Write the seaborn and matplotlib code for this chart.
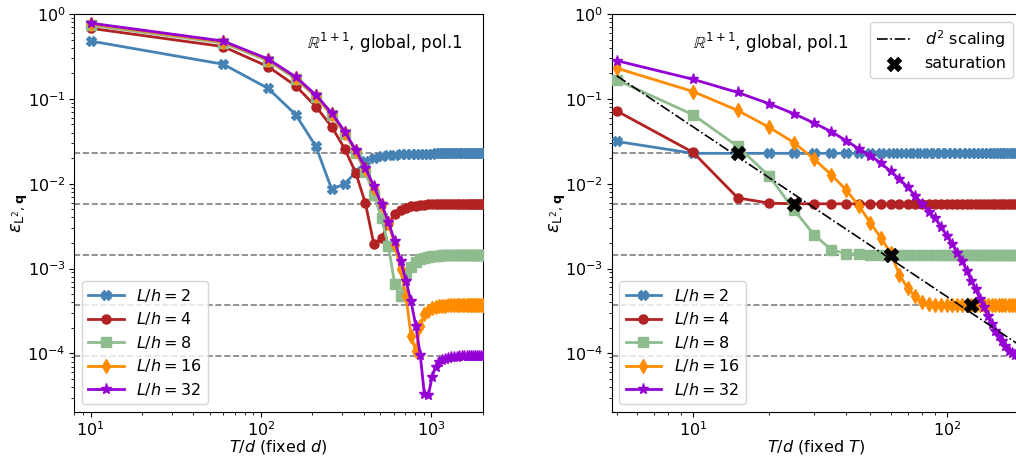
import numpy as np
import pandas as pd
import matplotlib
matplotlib.use("Agg")
import matplotlib.pyplot as plt
import seaborn as sns

# ===============================
# Data
# ===============================
lh_levels = ["2", "4", "8", "16", "32"]

# left panel: T/d with fixed d
td_left = list(range(10, 2011, 50))

blue_left = [0.48, 0.256, 0.133, 0.065, 0.0275, 0.0086, 0.0100, 0.0137, 0.0183, 0.0203,
             0.0212, 0.0217, 0.0220, 0.0222, 0.0223, 0.0224, 0.0225, 0.0225, 0.0226, 0.0226,
             0.0226, 0.0227, 0.0227, 0.0227, 0.0227, 0.0227, 0.0228, 0.0228, 0.0228, 0.0228,
             0.0228, 0.0228, 0.0228, 0.0228, 0.0228, 0.0228, 0.0228, 0.0228, 0.0228, 0.0228,
             0.0228]
red_left = [0.678, 0.413, 0.240, 0.142, 0.081, 0.047, 0.0258, 0.0134, 0.0059, 0.00193,
            0.0023, 0.0034, 0.0044, 0.0049, 0.0052, 0.0054, 0.0055, 0.0056, 0.00565, 0.0057,
            0.00573, 0.00575, 0.00577, 0.00578, 0.00579, 0.0058, 0.0058, 0.0058, 0.0058, 0.0058,
            0.0058, 0.0058, 0.0058, 0.0058, 0.0058, 0.0058, 0.0058, 0.0058, 0.0058, 0.0058,
            0.0058]
green_left = [0.735, 0.455, 0.281, 0.172, 0.105, 0.064, 0.039, 0.0232, 0.0137, 0.0074,
              0.0039, 0.00183, 0.00065, 0.00047, 0.00089, 0.00105, 0.00119, 0.00128, 0.00133, 0.00137,
              0.00139, 0.00141, 0.00142, 0.00143, 0.00144, 0.00144, 0.00145, 0.00145, 0.00145, 0.00146,
              0.00146, 0.00146, 0.00146, 0.00146, 0.00146, 0.00146, 0.00146, 0.00146, 0.00146, 0.00146,
              0.00146]
orange_left = [0.765, 0.47, 0.29, 0.178, 0.108, 0.066, 0.040, 0.0242, 0.0149, 0.0090,
               0.0056, 0.0034, 0.0019, 0.00098, 0.00047, 0.00016, 0.000108, 0.00021, 0.00029, 0.00032,
               0.00034, 0.000352, 0.00036, 0.000363, 0.000366, 0.000368, 0.000369, 0.00037, 0.00037, 0.00037,
               0.00037, 0.00037, 0.00037, 0.00037, 0.00037, 0.00037, 0.00037, 0.00037, 0.00037, 0.00037,
               0.00037]
purple_left = [0.78, 0.48, 0.295, 0.181, 0.111, 0.068, 0.0412, 0.0248, 0.0153, 0.0093,
               0.0058, 0.0035, 0.0021, 0.00124, 0.00071, 0.00041, 0.000213, 9.7e-5, 3.3e-5, 3.2e-5,
               5.3e-5, 7.0e-5, 7.9e-5, 8.4e-5, 8.7e-5, 8.9e-5, 9.0e-5, 9.1e-5, 9.15e-5, 9.2e-5,
               9.2e-5, 9.25e-5, 9.25e-5, 9.3e-5, 9.3e-5, 9.3e-5, 9.3e-5, 9.3e-5, 9.3e-5, 9.3e-5,
               9.3e-5]

# right panel: T/d with fixed T
td_right = list(range(5, 201, 5))

blue_right = [0.0315, 0.0228, 0.0228, 0.0228, 0.0228, 0.0228, 0.0228, 0.0228, 0.0228, 0.0228,
              0.0228, 0.0228, 0.0228, 0.0228, 0.0228, 0.0228, 0.0228, 0.0228, 0.0228, 0.0228,
              0.0228, 0.0228, 0.0228, 0.0228, 0.0228, 0.0228, 0.0228, 0.0228, 0.0228, 0.0228,
              0.0228, 0.0228, 0.0228, 0.0228, 0.0228, 0.0228, 0.0228, 0.0228, 0.0228, 0.0228]
red_right = [0.072, 0.0234, 0.0068, 0.0059, 0.0058, 0.0058, 0.0058, 0.0058, 0.0058, 0.0058,
             0.0058, 0.0058, 0.0058, 0.0058, 0.0058, 0.0058, 0.0058, 0.0058, 0.0058, 0.0058,
             0.0058, 0.0058, 0.0058, 0.0058, 0.0058, 0.0058, 0.0058, 0.0058, 0.0058, 0.0058,
             0.0058, 0.0058, 0.0058, 0.0058, 0.0058, 0.0058, 0.0058, 0.0058, 0.0058, 0.0058]
green_right = [0.167, 0.065, 0.0275, 0.0122, 0.0049, 0.0025, 0.00167, 0.0015, 0.00147, 0.00146,
               0.00146, 0.00146, 0.00146, 0.00146, 0.00146, 0.00146, 0.00146, 0.00146, 0.00146, 0.00146,
               0.00146, 0.00146, 0.00146, 0.00146, 0.00146, 0.00146, 0.00146, 0.00146, 0.00146, 0.00146,
               0.00146, 0.00146, 0.00146, 0.00146, 0.00146, 0.00146, 0.00146, 0.00146, 0.00146, 0.00146]
orange_right = [0.23, 0.122, 0.073, 0.046, 0.0304, 0.0195, 0.0128, 0.0085, 0.0055, 0.00345,
                0.0023, 0.00153, 0.00085, 0.00059, 0.00047, 0.0004, 0.00038, 0.00037, 0.00037, 0.00037,
                0.00037, 0.00037, 0.00037, 0.00037, 0.00037, 0.00037, 0.00037, 0.00037, 0.00037, 0.00037,
                0.00037, 0.00037, 0.00037, 0.00037, 0.00037, 0.00037, 0.00037, 0.00037, 0.00037, 0.00037]
purple_right = [0.282, 0.170, 0.119, 0.0873, 0.0667, 0.0518, 0.0412, 0.0323, 0.0258, 0.0214,
                0.0175, 0.0140, 0.0114, 0.0091, 0.0072, 0.0058, 0.0047, 0.0039, 0.0031, 0.00244,
                0.00195, 0.00153, 0.00122, 0.00093, 0.00071, 0.00057, 0.00044, 0.00035, 0.000275, 0.00022,
                0.000183, 0.00016, 0.00014, 0.000122, 0.000106, 0.0001, 9.6e-5, 9.5e-5, 9.4e-5, 9.3e-5]

# saturation levels (dashed lines) and saturation points
sat_levels = [0.0228, 0.0058, 0.00146, 0.00037, 0.000093]
sat_x = [15, 25, 60, 125]
sat_y = [0.0228, 0.0058, 0.00146, 0.00037]

# d^2 reference line (end points)
d2_x = [5, 200]
d2_y = [0.187, 0.000117]

# ===============================
# Styles
# ===============================
colors = ["steelblue", "firebrick", "darkseagreen", "darkorange", "darkviolet"]
markers = ["X", "o", "s", "d", "*"]
msizes = [7, 6.5, 6.5, 7, 8]

plt.rcParams["font.size"] = 11.5
plt.rcParams["legend.fontsize"] = 11.5
plt.rcParams["legend.labelspacing"] = 0.4
plt.rcParams["legend.handlelength"] = 2.2

W, H = 1016, 458
fig = plt.figure(figsize=(W / 100, H / 100), dpi=100)
ax1 = fig.add_axes([74 / W, 46 / H, 409 / W, 398 / H])
ax2 = fig.add_axes([611.5 / W, 46 / H, 409.5 / W, 398 / H])

left_series = [blue_left, red_left, green_left, orange_left, purple_left]
right_series = [blue_right, red_right, green_right, orange_right, purple_right]


def draw_panel(ax, td, series):
    ax.set_xscale("log")
    ax.set_yscale("log")
    for lev in sat_levels:
        ax.axhline(lev, color="gray", ls="--", lw=1.2, zorder=1)
    for lev, vals, c, m, ms in zip(lh_levels, series, colors, markers, msizes):
        sns.lineplot(x=td, y=vals, ax=ax, color=c, marker=m, markersize=ms,
                     markeredgecolor=c, markeredgewidth=1, lw=2,
                     label=f"$L/h={lev}$", errorbar=None, legend=False, zorder=3)
    ax.set_ylim(2.04e-5, 1)
    ax.set_ylabel(r"$\varepsilon_{\mathrm{L}^2,\mathbf{q}}$", fontsize=13, labelpad=-2)
    ax.tick_params(axis="both", which="major", labelsize=11.5, pad=2.5)


# ===============================
# Left panel
# ===============================
draw_panel(ax1, td_left, left_series)
ax1.set_xlim(7.98, 2010)
ax1.set_xlabel("$T/d$ (fixed $d$)", labelpad=-1)
ax1.text(0.95, 0.928, r"$\mathbb{R}^{1+1}$, global, pol.1", transform=ax1.transAxes,
         ha="right", va="center", fontsize=12)
ax1.legend(loc="lower left")

# ===============================
# Right panel
# ===============================
draw_panel(ax2, td_right, right_series)
h_lines, l_lines = ax2.get_legend_handles_labels()
sns.lineplot(x=d2_x, y=d2_y, ax=ax2, color="black", ls="-.", lw=1.2,
             label="$d^2$ scaling", errorbar=None, legend=False, zorder=4)
sns.scatterplot(x=sat_x, y=sat_y, ax=ax2, color="black", marker="X", s=110,
                edgecolor="black", linewidth=0.5, label="saturation", legend=False, zorder=6)
ax2.set_xlim(4.77, 196)
ax2.set_xlabel("$T/d$ (fixed $T$)", labelpad=-1)
ax2.text(0.2, 0.928, r"$\mathbb{R}^{1+1}$, global, pol.1", transform=ax2.transAxes,
         ha="left", va="center", fontsize=12)

h_all, l_all = ax2.get_legend_handles_labels()
leg1 = ax2.legend(h_lines, l_lines, loc="lower left")
ax2.add_artist(leg1)
ax2.legend(h_all[len(h_lines):], l_all[len(h_lines):], loc="upper right")

fig.savefig("out.png", dpi=100)
